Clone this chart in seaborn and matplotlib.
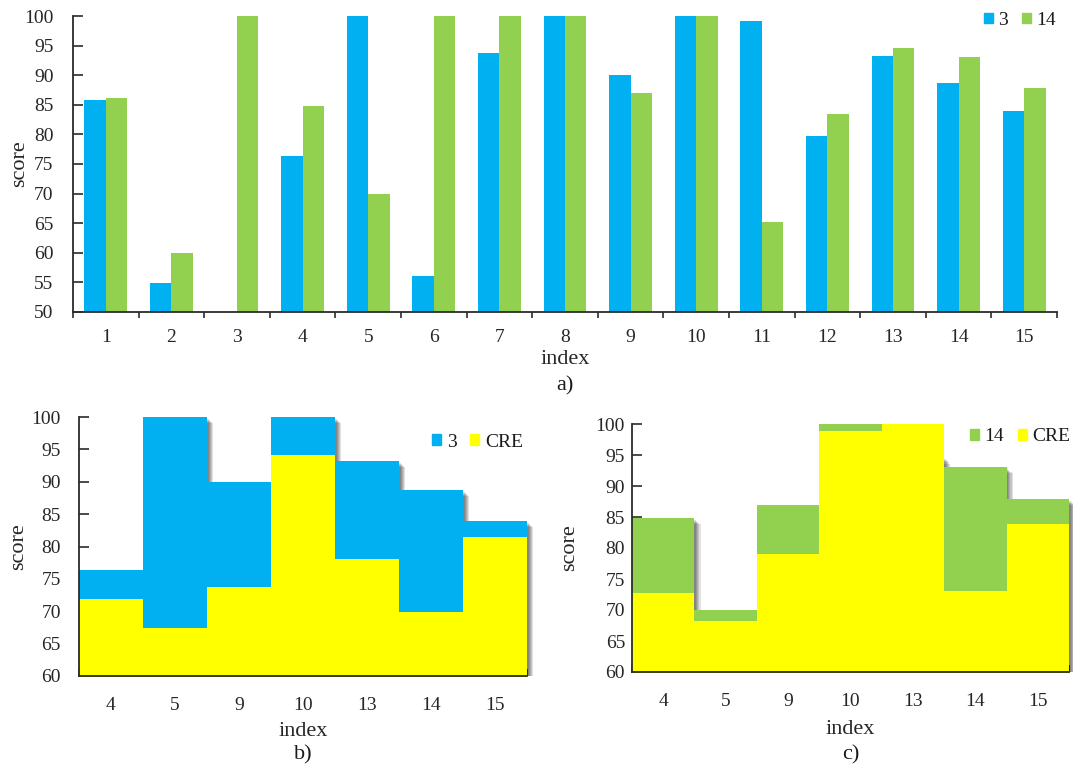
import numpy as np
import pandas as pd
import matplotlib
matplotlib.use("Agg")
import matplotlib.pyplot as plt
import seaborn as sns
from matplotlib.patches import Patch
from matplotlib import patheffects as pe
from matplotlib.transforms import Bbox, TransformedBbox

# ---- data -------------------------------------------------------------
index_labels = [str(i) for i in range(1, 16)]
score_3 = [85.8, 54.9, np.nan, 76.4, 100.0, 56.0, 93.7, 100.0, 90.0, 100.0,
           99.2, 79.8, 93.2, 88.7, 83.9]
score_14 = [86.2, 59.9, 100.0, 84.8, 70.0, 100.0, 100.0, 100.0, 87.0, 100.0,
            65.2, 83.4, 94.6, 93.1, 87.9]

subset_labels = ["4", "5", "9", "10", "13", "14", "15"]
cre_b = [71.9, 67.4, 73.8, 94.2, 78.0, 69.9, 81.5]
cre_c = [72.7, 68.2, 79.0, 98.8, 100.0, 73.0, 83.8]

BLUE = "#00B0F0"
GREEN = "#92D050"
YELLOW = "#FFFF00"
AXIS = "#2b2b2b"

sns.set_theme(style="white")
plt.rcParams["font.family"] = ["Liberation Serif", "DejaVu Serif"]
plt.rcParams["axes.edgecolor"] = AXIS
plt.rcParams["axes.linewidth"] = 1.3
plt.rcParams["text.color"] = "#1a1a1a"

fig = plt.figure(figsize=(10.73, 7.66), dpi=100)
W, H = 1073, 766


def px_axes(left, top, right, bottom):
    return fig.add_axes([left / W, 1 - bottom / H, (right - left) / W, (bottom - top) / H])


def style_axes(ax, ymin, ymax, ypad, xpad, xtick_dir, xtick_len):
    sns.despine(ax=ax)
    ax.set_ylim(ymin, ymax)
    ax.set_yticks(np.arange(ymin, ymax + 1, 5))
    ax.tick_params(axis="y", which="major", direction="in", length=7, width=1.2,
                   color=AXIS, labelsize=14, pad=ypad, left=True)
    ax.tick_params(axis="x", which="major", length=0, labelsize=14, pad=xpad, bottom=True)
    ax.tick_params(axis="x", which="minor", direction=xtick_dir, length=xtick_len,
                   width=1.2, color=AXIS, bottom=True)
    ax.grid(False)


def add_legend(ax, colors, labels, anchor):
    ax.legend(handles=[Patch(color=c, label=l) for c, l in zip(colors, labels)],
              loc="center right", bbox_to_anchor=anchor, borderaxespad=0,
              ncol=2, frameon=False, fontsize=14, handlelength=0.46,
              handleheight=0.46, handletextpad=0.3, columnspacing=0.7)


def label_axes(ax, xlab_y, ylab_x):
    ax.set_xlabel("index", fontsize=16)
    ax.set_ylabel("score", fontsize=16)
    ax.xaxis.set_label_coords(0.5, xlab_y)
    ax.yaxis.set_label_coords(ylab_x, 0.5)


# ---- a) grouped bars --------------------------------------------------
ax_a = px_axes(73, 16, 1057, 312)
df_a = pd.DataFrame({
    "index": index_labels * 2,
    "series": ["3"] * 15 + ["14"] * 15,
    "score": score_3 + score_14,
})
sns.barplot(data=df_a, x="index", y="score", hue="series", hue_order=["3", "14"],
            palette=[BLUE, GREEN], saturation=1, width=0.65, errorbar=None,
            linewidth=0, legend=False, ax=ax_a)
ax_a.set_xlim(-0.5, 14.5)
ax_a.set_xticks(np.arange(-0.5, 15, 1), minor=True)
style_axes(ax_a, 50, 100, ypad=14, xpad=12, xtick_dir="out", xtick_len=4)
label_axes(ax_a, -0.128, -0.045)
add_legend(ax_a, [BLUE, GREEN], ["3", "14"], (1.007, 0.985))
fig.text(565 / W, 1 - 386 / H, "a)", ha="center", va="center", fontsize=16)


# ---- b) and c) stepped areas -------------------------------------------
def soft_shadow():
    effects = [pe.SimplePatchShadow(offset=(d, -d), shadow_rgbFace="black", alpha=0.12)
               for d in (4.4, 3.6, 2.8, 2.0, 1.2)]
    return effects + [pe.Normal()]


def step_panel(ax, back_vals, back_color, cre_vals, width_px):
    pos = np.arange(len(subset_labels))
    df = pd.DataFrame({"pos": pos, "back": back_vals, "cre": cre_vals})
    sns.histplot(data=df, x="pos", weights="back", discrete=True, element="step",
                 fill=True, color=back_color, alpha=1, linewidth=0, ax=ax)
    back_poly = ax.collections[-1]
    back_poly.set_path_effects(soft_shadow())
    # let the shadow spill a few pixels past the right edge of the plot
    back_poly.set_clip_box(TransformedBbox(Bbox([[0, 0], [1 + 8 / width_px, 1]]),
                                           ax.transAxes))
    sns.histplot(data=df, x="pos", weights="cre", discrete=True, element="step",
                 fill=True, color=YELLOW, alpha=1, linewidth=0, ax=ax)
    ax.set_xlim(-0.5, len(pos) - 0.5)
    ax.set_xticks(pos)
    ax.set_xticklabels(subset_labels)
    ax.set_xticks(np.arange(-0.5, len(pos), 1), minor=True)


ax_b = px_axes(79, 417, 527, 676)
back_b = [score_3[index_labels.index(k)] for k in subset_labels]
step_panel(ax_b, back_b, BLUE, cre_b, 448)
style_axes(ax_b, 60, 100, ypad=13, xpad=15, xtick_dir="in", xtick_len=5)
label_axes(ax_b, -0.178, -0.114)
add_legend(ax_b, [BLUE, YELLOW], ["3", "CRE"], (1.009, 0.903))
fig.text(303 / W, 1 - 755 / H, "b)", ha="center", va="center", fontsize=16)

ax_c = px_axes(632, 424, 1069, 672)
back_c = [score_14[index_labels.index(k)] for k in subset_labels]
step_panel(ax_c, back_c, GREEN, cre_c, 437)
style_axes(ax_c, 60, 100, ypad=5, xpad=15, xtick_dir="in", xtick_len=5)
label_axes(ax_c, -0.194, -0.121)
add_legend(ax_c, [GREEN, YELLOW], ["14", "CRE"], (1.021, 0.948))
fig.text(851 / W, 1 - 755 / H, "c)", ha="center", va="center", fontsize=16)

fig.savefig("out.png", dpi=100)
